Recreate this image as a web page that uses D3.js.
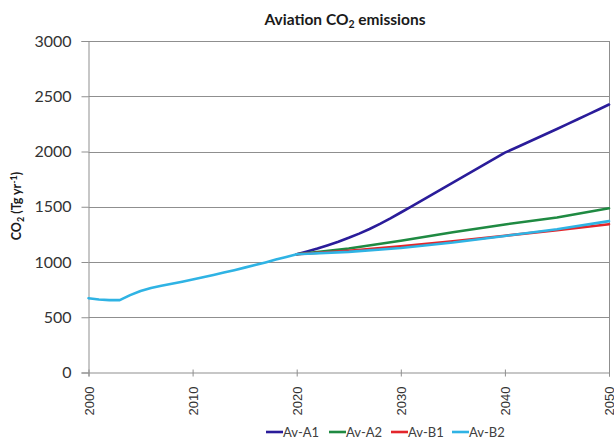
<!DOCTYPE html>
<html>
<head>
<meta charset="utf-8">
<script src="https://cdn.jsdelivr.net/npm/d3@7"></script>
<style>
  html, body { margin: 0; padding: 0; background: #fff; }
  svg { display: block; font-family: Lato, "Open Sans", sans-serif; }
</style>
</head>
<body>
<svg id="chart" width="614" height="448"></svg>
<script>
// Historical aviation CO2 (Tg/yr), 2000-2020
const histYears = d3.range(2000, 2021);
const histValues = [672, 660, 655, 655, 700, 738, 765, 785, 803, 822, 842,
                    862, 882, 904, 926, 949, 972, 996, 1022, 1046, 1070];

// Av-A1 projection, annual 2020-2050
const a1Years = d3.range(2020, 2051);
const avA1 = [1070, 1095, 1122, 1152, 1184, 1219, 1257, 1299, 1345, 1395, 1448,
              1502, 1556, 1610, 1664, 1718, 1772, 1826, 1881, 1935, 1990,
              2032, 2075, 2118, 2161, 2204, 2248, 2292, 2336, 2380, 2425];

// Other scenario projections, 2020-2050 in 5-year steps
const scenarioYears = [2020, 2025, 2030, 2035, 2040, 2045, 2050];
const avA2 = [1070, 1122, 1192, 1270, 1340, 1402, 1486];
const avB1 = [1070, 1102, 1142, 1187, 1238, 1288, 1342];
const avB2 = [1070, 1092, 1127, 1176, 1236, 1296, 1370];

const seriesNames = ["Av-A1", "Av-A2", "Av-B1", "Av-B2"];
const seriesColors = ["#2a1c9a", "#1f8a42", "#e3252b", "#2fb3e4"];

const yTicks = [0, 500, 1000, 1500, 2000, 2500, 3000];
const xTicks = [2000, 2010, 2020, 2030, 2040, 2050];

const svg = d3.select("#chart");
const plotLeft = 88.5, plotRight = 609, plotTop = 41, plotBottom = 372.5;

const x = d3.scaleLinear().domain([2000, 2050]).range([plotLeft, plotRight]);
const y = d3.scaleLinear().domain([0, 3000]).range([plotBottom, plotTop]);

// Title
const title = svg.append("text")
  .attr("x", 345).attr("y", 25)
  .attr("text-anchor", "middle")
  .attr("font-weight", "bold")
  .attr("font-size", 15.5)
  .attr("fill", "#1a1a1a");
title.append("tspan").text("Aviation CO");
title.append("tspan").attr("font-size", 10.5).attr("dy", 3).text("2");
title.append("tspan").attr("dy", -3).text(" emissions");

// Horizontal gridlines
svg.append("g")
  .selectAll("line")
  .data(yTicks.filter(d => d > 0))
  .join("line")
  .attr("x1", plotLeft).attr("x2", plotRight)
  .attr("y1", d => Math.round(y(d)) + 0.5).attr("y2", d => Math.round(y(d)) + 0.5)
  .attr("stroke", "#8f8f8f").attr("stroke-width", 1);

// Right border
svg.append("line")
  .attr("x1", plotRight + 0.5).attr("x2", plotRight + 0.5)
  .attr("y1", plotTop).attr("y2", plotBottom)
  .attr("stroke", "#8f8f8f").attr("stroke-width", 1);

// Y axis
const yAxis = svg.append("g")
  .attr("transform", `translate(${plotLeft},0)`)
  .call(d3.axisLeft(y).tickValues(yTicks).tickSize(7).tickPadding(10).tickFormat(d3.format("d")));
yAxis.select(".domain").attr("stroke", "#8f8f8f");
yAxis.selectAll(".tick line").attr("stroke", "#8f8f8f");
yAxis.selectAll(".tick text")
  .attr("font-size", 16).attr("fill", "#333")
  .attr("font-family", "Lato, sans-serif");

// X axis with rotated year labels
const xAxis = svg.append("g")
  .attr("transform", `translate(0,${plotBottom})`)
  .call(d3.axisBottom(x).tickValues(xTicks).tickSize(4).tickFormat(d3.format("d")));
xAxis.select(".domain").attr("stroke", "#8f8f8f");
xAxis.selectAll(".tick line").attr("stroke", "#8f8f8f").attr("y1", -3);
xAxis.selectAll(".tick text")
  .attr("font-size", 13).attr("fill", "#333")
  .attr("text-anchor", "end")
  .attr("transform", "rotate(-90)")
  .attr("x", -14).attr("y", 0).attr("dy", "0.35em");

// Y axis title
const yTitle = svg.append("text")
  .attr("transform", "translate(21,206) rotate(-90)")
  .attr("text-anchor", "middle")
  .attr("font-weight", "bold")
  .attr("font-size", 12.5)
  .attr("fill", "#1a1a1a");
yTitle.append("tspan").text("CO");
yTitle.append("tspan").attr("font-size", 9).attr("dy", 2.5).text("2");
yTitle.append("tspan").attr("dy", -2.5).text(" (Tg yr");
yTitle.append("tspan").attr("font-size", 9).attr("dy", -4.5).text("-1");
yTitle.append("tspan").attr("dy", 4.5).text(")");

// Lines
const line = d3.line().x(d => x(d[0])).y(d => y(d[1]));
const lines = svg.append("g").attr("fill", "none")
  .attr("stroke-width", 2.6).attr("stroke-linejoin", "round").attr("stroke-linecap", "round");

const seriesPoints = [
  a1Years.map((yr, j) => [yr, avA1[j]]),
  scenarioYears.map((yr, j) => [yr, avA2[j]]),
  scenarioYears.map((yr, j) => [yr, avB1[j]]),
  // Av-B2 is drawn last and also carries the shared historical record
  histYears.map((yr, j) => [yr, histValues[j]])
    .concat(scenarioYears.slice(1).map((yr, j) => [yr, avB2[j + 1]]))
];

seriesPoints.forEach((pts, i) => {
  lines.append("path")
    .attr("d", line(pts))
    .attr("stroke", seriesColors[i]);
});

// Legend
const legendX = [266, 329, 391, 452];
const legend = svg.append("g");
seriesNames.forEach((name, i) => {
  const g = legend.append("g").attr("transform", `translate(${legendX[i]},432)`);
  g.append("line").attr("x1", 0).attr("x2", 17).attr("y1", 0).attr("y2", 0)
    .attr("stroke", seriesColors[i]).attr("stroke-width", 2.6);
  g.append("text").attr("x", 17).attr("y", 0).attr("dy", "0.35em")
    .attr("font-size", 13).attr("fill", "#404040").text(name);
});
</script>
</body>
</html>
